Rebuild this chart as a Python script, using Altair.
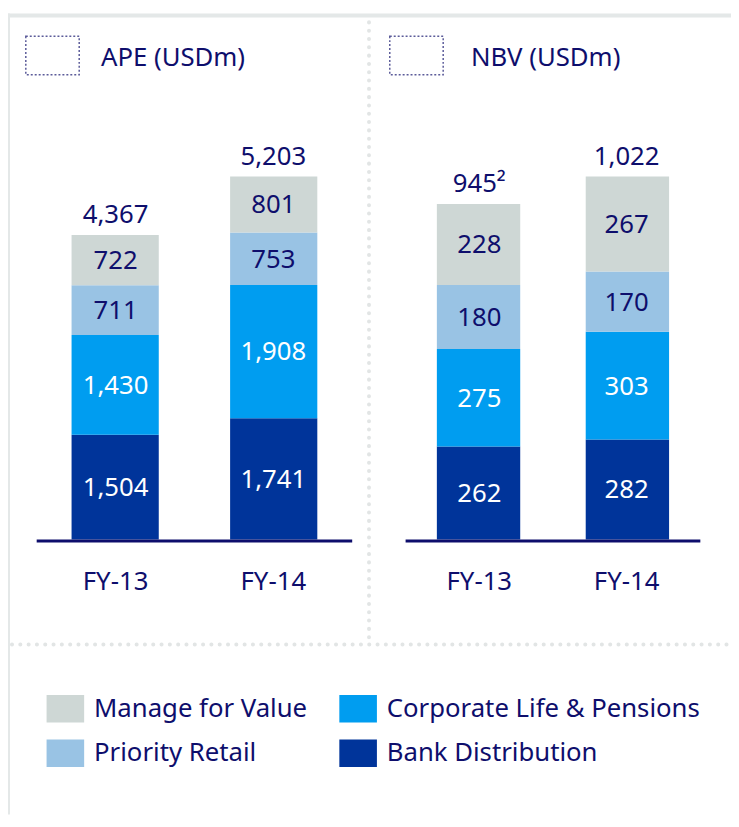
import altair as alt
import pandas as pd

NAVY = "#0e0e6c"
FONT = "Noto Sans"
FS = 26

years = ["FY-13", "FY-14"]
segments = ["Bank Distribution", "Corporate Life & Pensions", "Priority Retail", "Manage for Value"]
legend_order = ["Manage for Value", "Priority Retail", "Corporate Life & Pensions", "Bank Distribution"]
legend_colors = ["#CED7D5", "#99C3E4", "#009DF0", "#00349A"]
dark_segments = ["Bank Distribution", "Corporate Life & Pensions"]

ape_bank = [1504, 1741]
ape_corp = [1430, 1908]
ape_prio = [711, 753]
ape_mfv = [722, 801]
ape_total_labels = ["4,367", "5,203"]

nbv_bank = [262, 282]
nbv_corp = [275, 303]
nbv_prio = [180, 170]
nbv_mfv = [228, 267]
nbv_total_labels = ["945\u00b2", "1,022"]

panel_titles = ["APE (USDm)", "NBV (USDm)"]


def stack_df(series):
    rows = []
    for i, yr in enumerate(years):
        base = 0
        for seg, arr in zip(segments, series):
            v = arr[i]
            rows.append(dict(year=yr, segment=seg, value=v, y0=base, y1=base + v,
                             mid=base + v / 2, label=f"{v:,}"))
            base += v
    return pd.DataFrame(rows)


def color_enc():
    return alt.Color(
        "segment:N",
        scale=alt.Scale(domain=legend_order, range=legend_colors),
        legend=alt.Legend(
            orient="none", legendX=44, legendY=690, columns=2, title=None,
            symbolType="M-1.357,-1L1.357,-1L1.357,1L-1.357,1Z", symbolSize=784,
            symbolStrokeWidth=0, symbolOpacity=1, labelFont=FONT, labelFontSize=FS,
            labelColor=NAVY, labelOffset=15, columnPadding=32, rowPadding=17,
            labelLimit=400,
        ),
    )


def panel(series, total_labels, title, xr, pin, pout, box_x, title_x):
    df = stack_df(series)
    totals = pd.DataFrame({"year": years,
                           "total": [sum(a[i] for a in series) for i in range(len(years))],
                           "label": total_labels})
    ymax = float(totals["total"].max())
    xs = alt.Scale(domain=years, range=xr, paddingInner=pin, paddingOuter=pout)
    ys = alt.Scale(domain=[0, ymax], range=[533, 166], nice=False, zero=True)
    X = alt.X("year:N", scale=xs, axis=None)

    bars = alt.Chart(df).mark_bar().encode(
        x=X, y=alt.Y("y0:Q", scale=ys, axis=None), y2="y1:Q", color=color_enc())

    seg_txt_dark = alt.Chart(df[df.segment.isin(dark_segments)]).mark_text(
        font=FONT, fontSize=FS, color="white", baseline="middle", dy=1).encode(
        x=X, y=alt.Y("mid:Q", scale=ys, axis=None), text="label:N")
    seg_txt_light = alt.Chart(df[~df.segment.isin(dark_segments)]).mark_text(
        font=FONT, fontSize=FS, color=NAVY, baseline="middle", dy=1).encode(
        x=X, y=alt.Y("mid:Q", scale=ys, axis=None), text="label:N")

    tot = alt.Chart(totals).mark_text(
        font=FONT, fontSize=FS, color=NAVY, baseline="alphabetic", dy=-12).encode(
        x=X, y=alt.Y("total:Q", scale=ys, axis=None), text="label:N")

    xlab = alt.Chart(pd.DataFrame({"year": years})).mark_text(
        font=FONT, fontSize=FS, color=NAVY, baseline="alphabetic").encode(
        x=X, y=alt.value(584), text="year:N")

    base_rule = alt.Chart(alt.Data(values=[{}])).mark_rule(
        color=NAVY, strokeWidth=3, yOffset=1.5).encode(
        x=alt.value(xr[0]), x2=alt.value(xr[1]), y=alt.YDatum(0, scale=ys, axis=None))

    box = alt.Chart(alt.Data(values=[{}])).mark_rect(
        fill=None, fillOpacity=0, stroke="#5b5b99", strokeWidth=1.5, strokeDash=[2, 2]).encode(
        x=alt.value(box_x), x2=alt.value(box_x + 54), y=alt.value(24), y2=alt.value(63))

    ttl = alt.Chart(alt.Data(values=[{"t": title}])).mark_text(
        font=FONT, fontSize=FS, color=NAVY, align="left", baseline="alphabetic").encode(
        x=alt.value(title_x), y=alt.value(54), text="t:N")

    return [bars, seg_txt_dark, seg_txt_light, tot, xlab, base_rule, box, ttl]


GRAY = "#e4e8e8"
DOT = "#e2e5e5"
one = alt.Data(values=[{}])
top_band = alt.Chart(one).mark_rect(color=GRAY).encode(
    x=alt.value(0), x2=alt.value(731), y=alt.value(1), y2=alt.value(5))
left_band = alt.Chart(one).mark_rect(color=GRAY).encode(
    x=alt.value(0), x2=alt.value(2), y=alt.value(1), y2=alt.value(811))
vdots = alt.Chart(one).mark_rule(color=DOT, strokeWidth=4, strokeCap="round",
                                 strokeDash=[0.1, 8.3]).encode(
    x=alt.value(365), y=alt.value(10), y2=alt.value(632))
hdots = alt.Chart(one).mark_rule(color=DOT, strokeWidth=4, strokeCap="round",
                                 strokeDash=[0.1, 8.3]).encode(
    x=alt.value(4), x2=alt.value(731), y=alt.value(639))

layers = [top_band, left_band, vdots, hdots]
layers += panel([ape_bank, ape_corp, ape_prio, ape_mfv], ape_total_labels, panel_titles[0],
                [29, 348], 0.45, 0.22, 18, 94)
layers += panel([nbv_bank, nbv_corp, nbv_prio, nbv_mfv], nbv_total_labels, panel_titles[1],
                [402, 700], 0.44, 0.21, 386, 468)

chart = alt.layer(*layers).resolve_scale(x="independent", y="independent").properties(
    width=731, height=811, padding=0, autosize=alt.AutoSizeParams(type="none"),
).configure_view(stroke=None)

chart.save("out.html", embed_options={"renderer": "svg", "actions": False})
